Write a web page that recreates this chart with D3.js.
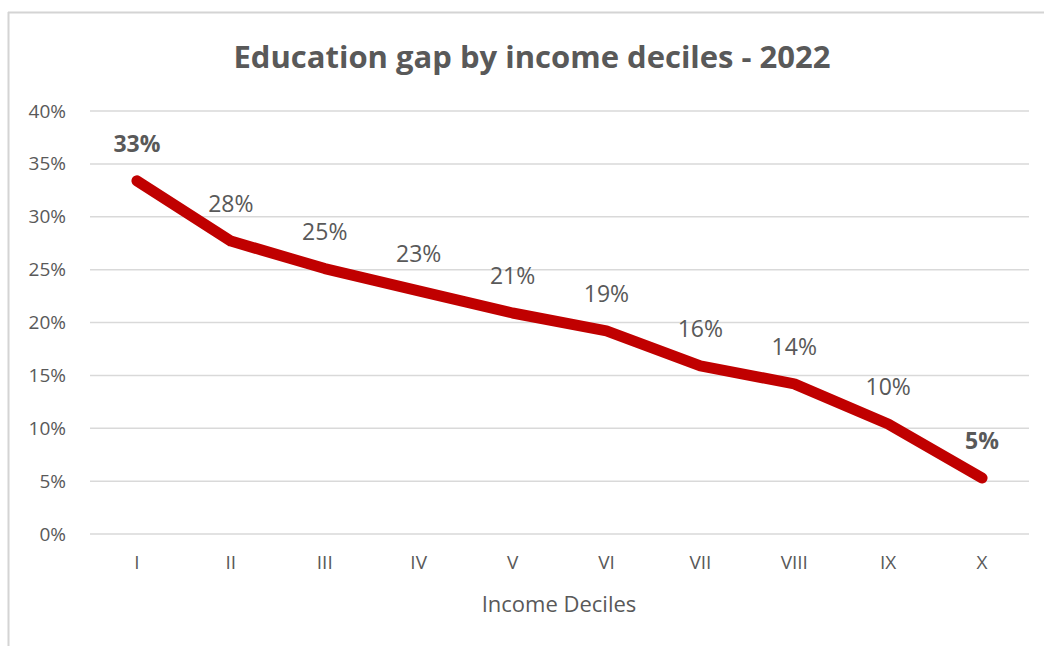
<!DOCTYPE html>
<html>
<head>
<meta charset="utf-8">
<script src="https://cdn.jsdelivr.net/npm/d3@7"></script>
<style>
  html, body { margin: 0; padding: 0; background: #fff; }
  svg { display: block; }
  text { font-family: "Open Sans", "Noto Sans", sans-serif; fill: #595959; }
</style>
</head>
<body>
<svg id="chart" width="1044" height="646"></svg>
<script>
// Education gap share per income decile, 2022
const deciles = ["I", "II", "III", "IV", "V", "VI", "VII", "VIII", "IX", "X"];
const gapValues = [0.334, 0.277, 0.251, 0.230, 0.209, 0.192, 0.159, 0.142, 0.104, 0.053];
const yTicks = [0, 0.05, 0.10, 0.15, 0.20, 0.25, 0.30, 0.35, 0.40];
const boldLabels = ["I", "X"];

const W = 1044, H = 646;
const margin = { top: 111, right: 15, bottom: 112, left: 90 };
const svg = d3.select("#chart");

// Frame edges of the chart area
svg.append("line").attr("x1", 8).attr("x2", W).attr("y1", 12.5).attr("y2", 12.5)
  .attr("stroke", "#d4d4d4").attr("stroke-width", 2);
svg.append("line").attr("x1", 8.5).attr("x2", 8.5).attr("y1", 12).attr("y2", H)
  .attr("stroke", "#d4d4d4").attr("stroke-width", 2);

const x = d3.scaleBand().domain(deciles).range([margin.left, W - margin.right]);
const y = d3.scaleLinear().domain([0, 0.40]).range([H - margin.bottom, margin.top]);

// Horizontal gridlines
svg.append("g").selectAll("line").data(yTicks).join("line")
  .attr("x1", margin.left).attr("x2", W - margin.right)
  .attr("y1", d => y(d)).attr("y2", d => y(d))
  .attr("stroke", "#d9d9d9").attr("stroke-width", 1.5);

// Y axis labels
const yAxis = svg.append("g")
  .attr("transform", `translate(${margin.left - 24},0)`)
  .call(d3.axisLeft(y).tickValues(yTicks).tickFormat(d3.format(".0%")).tickSize(0).tickPadding(0));
yAxis.select(".domain").remove();
yAxis.selectAll("text").style("font-size", "19px").attr("fill", "#595959")
  .attr("font-family", "'Open Sans', sans-serif");

// X axis labels
const xAxis = svg.append("g")
  .attr("transform", `translate(0,${H - margin.bottom + 21})`)
  .call(d3.axisBottom(x).tickSize(0).tickPadding(0));
xAxis.select(".domain").remove();
xAxis.selectAll("text").style("font-size", "19px").attr("fill", "#595959")
  .attr("font-family", "'Open Sans', sans-serif");

// Data line
const line = d3.line()
  .x((d, i) => x(deciles[i]) + x.bandwidth() / 2)
  .y(d => y(d));
svg.append("path").datum(gapValues)
  .attr("d", line)
  .attr("fill", "none")
  .attr("stroke", "#c00000")
  .attr("stroke-width", 11)
  .attr("stroke-linecap", "round")
  .attr("stroke-linejoin", "round");

// Value labels above each point
const fmt = d3.format(".0%");
svg.append("g").selectAll("text").data(gapValues).join("text")
  .attr("x", (d, i) => x(deciles[i]) + x.bandwidth() / 2)
  .attr("y", d => y(d) - 37)
  .attr("dy", "0.35em")
  .attr("text-anchor", "middle")
  .style("font-size", "23px")
  .style("font-weight", (d, i) => boldLabels.includes(deciles[i]) ? "700" : "400")
  .text(d => fmt(d));

// Title
svg.append("text")
  .attr("x", 532).attr("y", 57).attr("dy", "0.35em")
  .attr("text-anchor", "middle")
  .style("font-size", "31px").style("font-weight", "700")
  .text("Education gap by income deciles - 2022");

// X axis title
svg.append("text")
  .attr("x", W / 2 + 37).attr("y", 604).attr("dy", "0.35em")
  .attr("text-anchor", "middle")
  .style("font-size", "22px")
  .text("Income Deciles");
</script>
</body>
</html>
